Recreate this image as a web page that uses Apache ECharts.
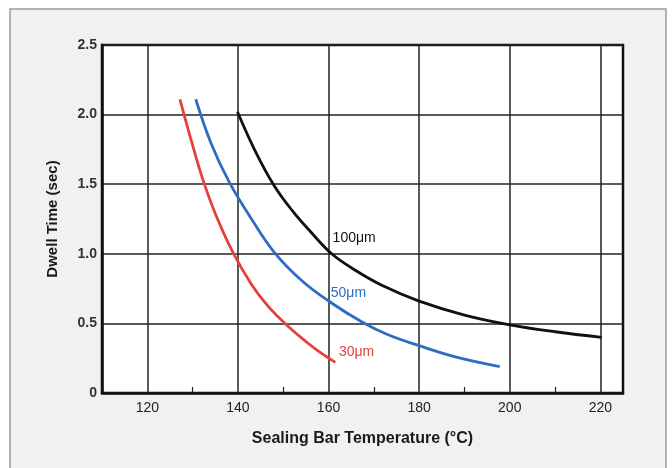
<!DOCTYPE html>
<html>
<head>
<meta charset="utf-8">
<script src="https://cdn.jsdelivr.net/npm/echarts@6/dist/echarts.min.js"></script>
<style>html,body{margin:0;padding:0;background:#fff}#c{width:672px;height:468px}</style>
</head>
<body>
<div id="c"></div>
<script>
// Data
const xTickLabels = [120, 140, 160, 180, 200, 220];
const xMinorTicks = [130, 150, 170, 190, 210];
const red30x = [127.2, 130, 132.2, 135, 138.9, 143, 146.5, 150.4, 155, 158, 161.5];
const red30y = [2.11, 1.78, 1.54, 1.29, 1.01, 0.78, 0.63, 0.50, 0.37, 0.295, 0.22];
const blue50x = [130.7, 134, 138, 143, 147.8, 154, 160.5, 167.4, 173, 180, 188, 197.8];
const blue50y = [2.11, 1.80, 1.52, 1.25, 1.02, 0.81, 0.65, 0.51, 0.42, 0.34, 0.26, 0.19];
const black100x = [139.9, 143.5, 147.8, 152, 156, 160.7, 166, 172, 180, 190, 200, 210, 220.3];
const black100y = [2.02, 1.76, 1.50, 1.31, 1.16, 1.00, 0.88, 0.77, 0.66, 0.56, 0.49, 0.44, 0.40];
const seriesNames = ['30μm', '50μm', '100μm'];
const labelAnchors = [[162.3, 0.29], [160.5, 0.72], [160.9, 1.11]];

const zip = (xs, ys) => xs.map((x, i) => [x, ys[i]]);
const colors = ['#e5403a', '#2e6ec2', '#111111'];
const datas = [zip(red30x, red30y), zip(blue50x, blue50y), zip(black100x, black100y)];

const chart = echarts.init(document.getElementById('c'));
const font = 'Liberation Sans, Arial, Helvetica, sans-serif';
chart.setOption({
  backgroundColor: '#ffffff',
  animation: false,
  graphic: [{
    type: 'rect', z: -10, silent: true,
    shape: { x: 10, y: 9, width: 656, height: 470 },
    style: { fill: '#f1f1f1', stroke: '#9a9a9a', lineWidth: 1.5 }
  }],
  grid: {
    left: 102, top: 45, right: 49, bottom: 75,
    show: true, backgroundColor: '#ffffff', borderColor: '#111', borderWidth: 2.5
  },
  xAxis: [{
    type: 'value', min: 110, max: 225,
    name: 'Sealing Bar Temperature (°C)', nameLocation: 'middle', nameGap: 38,
    nameTextStyle: { fontFamily: font, fontSize: 16, fontWeight: 'bold', color: '#1a1a1a' },
    axisLine: { show: true, lineStyle: { color: '#111', width: 2.5 } },
    axisTick: { show: false, customValues: xTickLabels },
    axisLabel: { customValues: xTickLabels, margin: 8, fontFamily: font, fontSize: 14, color: '#222' },
    splitLine: { show: true, lineStyle: { color: '#222', width: 1.5 } }
  }, {
    type: 'value', min: 110, max: 225, position: 'bottom',
    axisLine: { show: false },
    axisTick: { show: true, inside: true, length: 6, customValues: xMinorTicks, lineStyle: { color: '#222', width: 1.2 } },
    axisLabel: { show: false, customValues: xMinorTicks },
    splitLine: { show: false }
  }],
  yAxis: {
    type: 'value', min: 0, max: 2.5, interval: 0.5,
    name: 'Dwell Time (sec)', nameLocation: 'middle', nameGap: 42,
    nameTextStyle: { fontFamily: font, fontSize: 15, fontWeight: 'bold', color: '#1a1a1a' },
    axisLine: { show: true, lineStyle: { color: '#111', width: 2.5 } },
    axisTick: { show: false },
    axisLabel: {
      margin: 5, fontFamily: font, fontSize: 14, fontWeight: 'bold', color: '#333',
      formatter: v => v === 0 ? '0' : v.toFixed(1)
    },
    splitLine: { show: true, lineStyle: { color: '#222', width: 1.5 } }
  },
  series: datas.map((d, i) => ({
    type: 'line', name: seriesNames[i], data: d, smooth: 0.4,
    showSymbol: false, z: 5,
    lineStyle: { color: colors[i], width: 2.8 },
    markPoint: {
      symbol: 'circle', symbolSize: 0, silent: true,
      data: [{ coord: labelAnchors[i] }],
      label: {
        show: true, position: 'right', distance: 0, formatter: seriesNames[i],
        fontFamily: font, fontSize: 14, color: colors[i]
      }
    }
  }))
});
</script>
</body>
</html>
